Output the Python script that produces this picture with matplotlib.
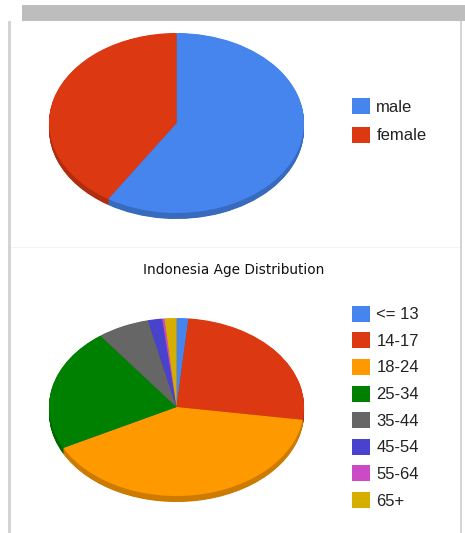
import matplotlib
matplotlib.use("Agg")
import matplotlib.pyplot as plt
from matplotlib.patches import Rectangle
from matplotlib.colors import to_rgb

# ---- data ----
gender_labels = ["male", "female"]
gender_values = [59, 41]
gender_colors = ["#4684EE", "#DC3912"]

age_title = "Indonesia Age Distribution"
age_labels = ["<= 13", "14-17", "18-24", "25-34", "35-44", "45-54", "55-64", "65+"]
age_values = [1.5, 25.8, 40.1, 22.4, 6.6, 1.8, 0.3, 1.5]
age_colors = ["#4684EE", "#DC3912", "#FF9900", "#008000", "#666666",
              "#4942CC", "#CB4AC5", "#D6AE00"]

W, H = 465, 533
fig = plt.figure(figsize=(W / 100, H / 100), dpi=100)
fig.patch.set_facecolor("white")
plt.rcParams['font.family'] = ['Liberation Sans', 'DejaVu Sans']


def fig_rect(x0, y0, w, h, color, z=0):
    fig.patches.append(Rectangle((x0 / W, 1 - (y0 + h) / H), w / W, h / H,
                                 transform=fig.transFigure, facecolor=color,
                                 edgecolor="none", zorder=z))


# frame decorations
fig_rect(22, 5, W - 22, 16, "#bdbdbd")
fig_rect(8, 21, 2.5, H - 21, "#d4d4d4")
fig_rect(459.5, 21, 2.5, H - 21, "#d4d4d4")
fig_rect(10.5, 247, 449, 1, "#f3f3f3")


def darker(c, f=0.8):
    r, g, b = to_rgb(c)
    return (r * f, g * f, b * f)


def pie3d(values, colors, left, top, rx, ry, depth):
    ax = fig.add_axes([left / W, 1 - (top + 2 * ry + depth) / H,
                       2 * rx / W, (2 * ry + depth) / H])
    dy = depth / ry
    dark = [darker(c) for c in colors]
    steps = int(depth * 2)
    for k in range(steps, 0, -1):
        ax.pie(values, colors=dark, startangle=90, counterclock=False,
               center=(0, -dy * k / steps), radius=1,
               wedgeprops=dict(linewidth=0), frame=False)
    wedges, _ = ax.pie(values, colors=colors, startangle=90, counterclock=False,
                       center=(0, 0), radius=1,
                       wedgeprops=dict(linewidth=0), frame=False)
    ax.set_aspect("auto")
    ax.set_xlim(-1, 1)
    ax.set_ylim(-1 - dy, 1)
    ax.axis("off")
    return ax, wedges


ax1, w1 = pie3d(gender_values, gender_colors, 49, 33, 127.5, 90, 6)
ax2, w2 = pie3d(age_values, age_colors, 49, 318, 127.5, 89, 6)

fs = 12
leg1 = fig.legend(w1, gender_labels, loc="upper left",
                  bbox_to_anchor=(352 / W, 1 - 98 / H), frameon=False,
                  fontsize=fs, handlelength=1.08, handleheight=1.1,
                  handletextpad=0.38, labelspacing=0.72, borderpad=0,
                  borderaxespad=0, labelcolor="#222222")
leg2 = fig.legend(w2, age_labels, loc="upper left",
                  bbox_to_anchor=(352 / W, 1 - 305.5 / H), frameon=False,
                  fontsize=fs, handlelength=1.08, handleheight=1.1,
                  handletextpad=0.38, labelspacing=0.6, borderpad=0,
                  borderaxespad=0, labelcolor="#222222")

fig.text(234 / W, 1 - 270 / H, age_title, ha="center", va="center",
         fontsize=9.8, color="#111111", family=["DejaVu Sans"])

fig.savefig("out.png", dpi=100, facecolor="white")
